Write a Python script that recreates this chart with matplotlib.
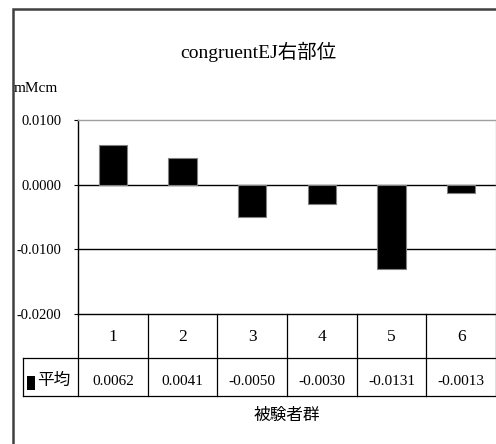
import matplotlib
matplotlib.use("Agg")
import matplotlib.pyplot as plt
from matplotlib.patches import Rectangle
from matplotlib.transforms import blended_transform_factory

# --- dane ---
groups = ['1', '2', '3', '4', '5', '6']
means = [0.0062, 0.0041, -0.0050, -0.0030, -0.0131, -0.0013]
mean_labels = ['0.0062', '0.0041', '-0.0050', '-0.0030', '-0.0131', '-0.0013']
yticks = [0.01, 0.0, -0.01, -0.02]
ytick_labels = ['0.0100', '0.0000', '-0.0100', '-0.0200']
series_name = '平均'
title = 'congruentEJ右部位'
unit = 'mMcm'
xlabel = '被験者群'

fonts = ['Liberation Serif', 'Noto Sans CJK JP']
cjk = ['Noto Sans CJK JP', 'Liberation Serif']
W, H = 496, 444

fig = plt.figure(figsize=(W / 100, H / 100), dpi=100)

# ramka całego wykresu
fig.patches.append(Rectangle((13 / W, -0.1), 1.2, 1.1 - 9 / H, transform=fig.transFigure,
                             fill=False, edgecolor='#404040', linewidth=1.8))

ax = fig.add_axes([78 / W, 1 - 314 / H, 418 / W, 194 / H])
x = list(range(len(groups)))
ax.bar(x, means, width=0.41, color='black', edgecolor='#808080', linewidth=0.8, zorder=3)
ax.set_xlim(-0.5, len(groups) - 0.5)
ax.set_ylim(-0.02, 0.01)
ax.set_yticks(yticks)
ax.set_yticklabels(ytick_labels, fontfamily=fonts, fontsize=10.5)
ax.tick_params(axis='y', length=3, width=0.8, pad=9)
ax.set_xticks([])
for yv in [0.0, -0.01]:
    ax.axhline(yv, color='black', linewidth=1, zorder=2)
ax.spines['left'].set_color('black')
ax.spines['bottom'].set_color('black')
ax.spines['top'].set_color('#a0a0a0')
ax.spines['right'].set_color('#c0c0c0')
for s in ax.spines.values():
    s.set_linewidth(1)

# tabela danych pod osią
px = 418 / len(groups)          # piksele na jednostkę osi x
tr = blended_transform_factory(ax.transData, ax.transAxes)
row1 = -(358 - 314) / 194
row2 = -(396 - 314) / 194
left_cell = -0.5 - 55 / px
kw = dict(transform=tr, color='black', linewidth=0.9, clip_on=False)
ax.plot([left_cell, len(groups) - 0.5], [row1, row1], **kw)
ax.plot([left_cell, len(groups) - 0.5], [row2, row2], **kw)
ax.plot([left_cell, left_cell], [row1, row2], **kw)
for b in range(len(groups) + 1):
    ax.plot([b - 0.5, b - 0.5], [0, row2], **kw)
for i, g in enumerate(groups):
    ax.text(i, -(337 - 314) / 194, g, transform=tr, ha='center', va='center',
            fontfamily=fonts, fontsize=12.5)
    ax.text(i, -(381 - 314) / 194, mean_labels[i], transform=tr, ha='center',
            va='center', fontfamily=fonts, fontsize=11)

# legenda w tabeli
ax.add_patch(Rectangle((-0.5 - 51 / px, -(390 - 314) / 194), 8 / px, 14 / 194, transform=tr,
                       facecolor='black', edgecolor='none', clip_on=False))
ax.text(-0.5 - 41 / px, -(380 - 314) / 194, series_name, transform=tr,
        ha='left', va='center', fontfamily=cjk, fontsize=12)

fig.text(258 / W, 1 - 52 / H, title, ha='center', va='center', fontfamily=fonts, fontsize=14)
fig.text(14 / W, 1 - 88 / H, unit, ha='left', va='center', fontfamily=fonts, fontsize=11)
fig.text(287 / W, 1 - 415 / H, xlabel, ha='center', va='center', fontfamily=cjk, fontsize=12)

fig.savefig("out.png", dpi=100)
